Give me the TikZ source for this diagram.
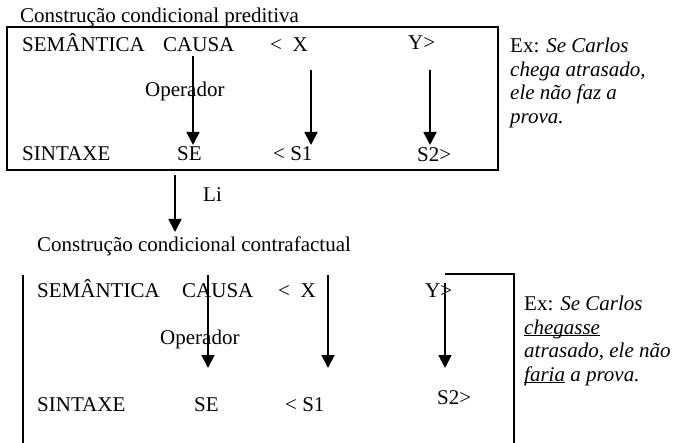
\documentclass[tikz,border=0pt]{standalone}
\usepackage{fontspec}
\setmainfont{Liberation Serif}
\usetikzlibrary{arrows.meta}
\newcommand{\sublinha}[1]{\underline{\smash{#1}}}

\begin{document}
\begin{tikzpicture}[x=1pt,y=-1pt,>={Triangle[width=13pt,length=13pt]},
 txt/.style={anchor=base west,inner sep=0pt,font=\fontsize{21}{23.5}\selectfont},
 exemplo/.style={txt,anchor=north west,align=left},
 seta/.style={->,line width=1.8pt},
 moldura/.style={line width=1.5pt}]
 \useasboundingbox (0,0) rectangle (679,443);

 % construcao preditiva
 \node[txt] (tit1) at (20,23) {Construção condicional preditiva};
 \draw[moldura] (7,27) rectangle (498,170);
 \node[txt] (sem1) at (22,52) {SEMÂNTICA};
 \node[txt] (causa1) at (163,52) {CAUSA};
 \node[txt] (x1) at (270,52) {<\ \ X};
 \node[txt] (y1) at (408,50) {Y>};
 \node[txt] (op1) at (145,97) {Operador};
 \node[txt] (sin1) at (22,161) {SINTAXE};
 \node[txt] (se1) at (177,161) {SE};
 \node[txt] (s11) at (273,161) {< S1};
 \node[txt] (s21) at (417,162) {S2>};
 \node[exemplo] (ex1) at (510,38) {Ex: \textit{Se Carlos}\\
  \textit{chega atrasado,}\\ \textit{ele não faz a}\\ \textit{prova.}};

 \coordinate (a1) at (193,56);  \coordinate (b1) at (193,145);
 \coordinate (a2) at (311,70);  \coordinate (b2) at (311,145);
 \coordinate (a3) at (430,70);  \coordinate (b3) at (430,145);
 \draw[seta] (a1) -- (b1);
 \draw[seta] (a2) -- (b2);
 \draw[seta] (a3) -- (b3);

 % passagem
 \coordinate (li0) at (175,175); \coordinate (li1) at (175,232);
 \draw[seta] (li0) -- (li1);
 \node[txt] (li) at (203,202) {Li};

 % construcao contrafactual
 \node[txt] (tit2) at (37,252) {Construção condicional contrafactual};
 \draw[moldura] (23,275) -- (23,443);
 \draw[moldura] (445,274) -- (514,274) -- (514,443);
 \node[txt] (sem2) at (37,298) {SEMÂNTICA};
 \node[txt] (causa2) at (182,298) {CAUSA};
 \node[txt] (x2) at (278,298) {<\ \ X};
 \node[txt] (y2) at (425,297) {Y>};
 \node[txt] (op2) at (160,344) {Operador};
 \node[txt] (sin2) at (37,411) {SINTAXE};
 \node[txt] (se2) at (194,411) {SE};
 \node[txt] (s12) at (285,411) {< S1};
 \node[txt] (s22) at (437,404) {S2>};
 \node[exemplo] (ex2) at (524,296) {Ex: \textit{Se Carlos}\\
  \textit{\sublinha{chegasse}}\\ \textit{atrasado, ele não}\\
  \textit{\sublinha{faria} a prova.}};

 \coordinate (c1) at (208,275); \coordinate (d1) at (208,368);
 \coordinate (c2) at (328,275); \coordinate (d2) at (328,368);
 \coordinate (c3) at (445,283); \coordinate (d3) at (445,368);
 \draw[seta] (c1) -- (d1);
 \draw[seta] (c2) -- (d2);
 \draw[seta] (c3) -- (d3);
\end{tikzpicture}
\end{document}
